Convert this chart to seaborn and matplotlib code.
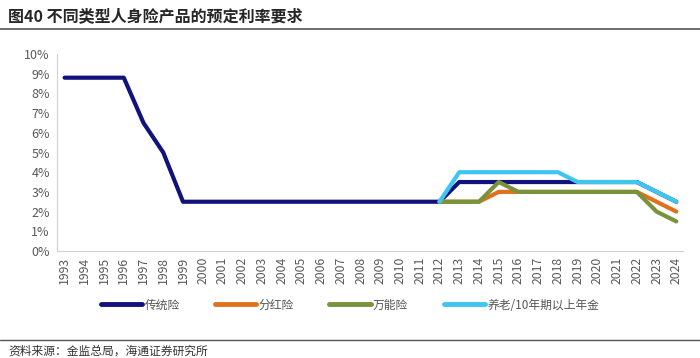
import pandas as pd
import matplotlib.pyplot as plt
import seaborn as sns
import numpy as np

# Data
years = list(range(1993, 2025))
traditional = [8.8, 8.8, 8.8, 8.8, 6.5, 5.0] + [2.5] * 14 + [3.5] * 10 + [3.0, 2.5]
participating_years = list(range(2012, 2025))
participating = [2.5, 2.5, 2.5, 3.0, 3.0, 3.0, 3.0, 3.0, 3.0, 3.0, 3.0, 2.5, 2.0]
universal = [2.5, 2.5, 2.5, 3.5, 3.0, 3.0, 3.0, 3.0, 3.0, 3.0, 3.0, 2.0, 1.5]
pension = [2.5, 4.0, 4.0, 4.0, 4.0, 4.0, 4.0, 3.5, 3.5, 3.5, 3.5, 3.0, 2.5]

series_names = ['传统险', '分红险', '万能险', '养老/10年期以上年金']
colors = ['#12127c', '#e2711d', '#77933c', '#3fc6f0']

df = pd.concat([
    pd.DataFrame({'year': years, 'rate': traditional, 'type': series_names[0]}),
    pd.DataFrame({'year': participating_years, 'rate': participating, 'type': series_names[1]}),
    pd.DataFrame({'year': participating_years, 'rate': universal, 'type': series_names[2]}),
    pd.DataFrame({'year': participating_years, 'rate': pension, 'type': series_names[3]}),
])

sns.set_style('white')
plt.rcParams['font.family'] = ['Noto Sans CJK SC', 'DejaVu Sans']

fig = plt.figure(figsize=(7, 3.58), dpi=100)
ax = fig.add_axes([0.081, 0.299, 0.895, 0.55])

# draw order: navy, orange, green, cyan on top
sns.lineplot(data=df, x='year', y='rate', hue='type', hue_order=series_names,
             palette=colors, linewidth=3, ax=ax, legend=False)

ax.set_xlim(1992.6, 2024.35)
ax.set_ylim(0, 10)
ax.set_yticks(range(0, 11))
ax.set_yticklabels([f'{v}%' for v in range(0, 11)], fontsize=9, color='#595959')
ax.set_xticks(years)
ax.set_xticklabels([str(y) for y in years], rotation=90, fontsize=8.8, color='#595959')
ax.set_xlabel('')
ax.set_ylabel('')
for s in ['top', 'right']:
    ax.spines[s].set_visible(False)
ax.spines['left'].set_color('#d0d0d0')
ax.spines['bottom'].set_color('#d0d0d0')
ax.tick_params(axis='y', length=3, color='#d0d0d0', pad=2)
ax.tick_params(axis='x', length=0, pad=4)

# legend
handles = [plt.Line2D([], [], color=c, linewidth=3.5) for c in colors]
fig.legend(handles, series_names, loc='center', bbox_to_anchor=(0.5, 0.148), ncol=4,
           frameon=False, fontsize=8.5, handlelength=3.5, columnspacing=3,
           handletextpad=0.2, labelcolor='#555555')

# title and source
fig.text(0.012, 0.955, '图40 不同类型人身险产品的预定利率要求', fontsize=11.5,
         fontweight='bold', va='center', ha='left')
fig.add_artist(plt.Line2D([0, 1], [0.918, 0.918], color='#555555', linewidth=1.2))
fig.add_artist(plt.Line2D([0, 1], [0.05, 0.05], color='#555555', linewidth=1))
fig.text(0.012, 0.02, '资料来源：金监总局，海通证券研究所', fontsize=8.5,
         va='center', ha='left', color='#333333')

fig.savefig('out.png', dpi=100)
